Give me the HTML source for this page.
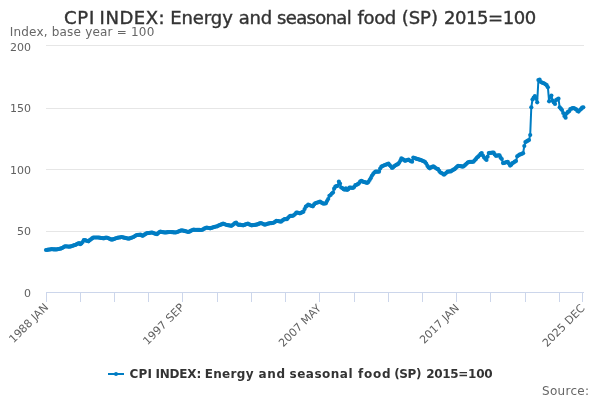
<!DOCTYPE html>
<html><head><meta charset="utf-8"><title>CPI INDEX: Energy and seasonal food (SP) 2015=100</title>
<style>
html,body{margin:0;padding:0;background:#fff;}
svg{display:block;font-family:"DejaVu Sans","Liberation Sans",Verdana,sans-serif;}
</style></head><body>
<svg width="600" height="400" viewBox="0 0 600 400">
<rect width="600" height="400" fill="#fff"/>
<g stroke="#e6e6e6" stroke-width="1" fill="none">
<path d="M46 45.5 H584"/><path d="M46 108.5 H584"/><path d="M46 169.5 H584"/><path d="M46 231.5 H584"/>
</g>
<g stroke="#ccd6eb" stroke-width="1" fill="none">
<path d="M46 292.5 H584"/>
<path d="M46.5 292 V302"/><path d="M80.5 292 V302"/><path d="M114.5 292 V302"/><path d="M148.5 292 V302"/><path d="M182.5 292 V302"/><path d="M217.5 292 V302"/><path d="M251.5 292 V302"/><path d="M285.5 292 V302"/><path d="M319.5 292 V302"/><path d="M354.5 292 V302"/><path d="M388.5 292 V302"/><path d="M422.5 292 V302"/><path d="M456.5 292 V302"/><path d="M490.5 292 V302"/><path d="M525.5 292 V302"/><path d="M559.5 292 V302"/><path d="M582.5 292 V302"/>
</g>
<defs><marker id="m" markerWidth="6" markerHeight="6" refX="3" refY="3" markerUnits="userSpaceOnUse"><circle cx="3" cy="3" r="2.1" fill="#007dc3"/></marker></defs>
<path d="M46.0 250.0 47.2 249.8 48.4 249.7 49.5 249.5 50.7 249.3 51.9 249.2 53.1 249.3 54.3 249.4 55.4 249.4 56.6 249.5 57.8 249.2 59.0 249.0 60.2 248.7 61.4 248.3 62.5 247.8 63.7 247.1 64.9 246.3 66.1 246.4 67.3 246.5 68.4 246.6 69.6 246.7 70.8 246.4 72.0 246.0 73.2 245.6 74.3 245.2 75.5 245.0 76.7 244.2 77.9 243.6 79.1 243.0 80.2 244.2 81.4 243.4 82.6 242.0 83.8 240.0 85.0 240.2 86.1 240.6 87.3 241.0 88.5 241.3 89.7 240.2 90.9 239.3 92.1 238.4 93.2 237.5 94.4 237.5 95.6 237.5 96.8 237.5 98.0 237.5 99.1 237.6 100.3 237.8 101.5 238.0 102.7 238.2 103.9 238.3 105.0 237.9 106.2 237.5 107.4 237.8 108.6 238.3 109.8 238.8 110.9 239.4 112.1 239.7 113.3 239.2 114.5 238.8 115.7 238.3 116.9 238.0 118.0 237.7 119.2 237.5 120.4 237.3 121.6 237.0 122.8 237.3 123.9 237.6 125.1 237.9 126.3 238.2 127.5 238.5 128.7 238.7 129.8 238.3 131.0 237.9 132.2 237.5 133.4 237.0 134.6 236.3 135.7 235.6 136.9 235.0 138.1 234.9 139.3 234.8 140.5 234.7 141.7 235.4 142.8 235.8 144.0 234.9 145.2 234.2 146.4 233.3 147.6 233.2 148.7 233.0 149.9 232.8 151.1 232.6 152.3 232.5 153.5 233.1 154.6 233.5 155.8 233.9 157.0 234.2 158.2 233.1 159.4 232.2 160.5 231.7 161.7 232.0 162.9 232.2 164.1 232.4 165.3 232.5 166.4 232.4 167.6 232.2 168.8 232.1 170.0 232.0 171.2 232.1 172.4 232.2 173.5 232.3 174.7 232.4 175.9 232.5 177.1 232.0 178.3 231.6 179.4 231.1 180.6 230.7 181.8 230.3 183.0 230.6 184.2 230.9 185.3 231.2 186.5 231.5 187.7 231.8 188.9 232.0 190.1 231.2 191.2 230.6 192.4 230.1 193.6 229.7 194.8 229.8 196.0 229.8 197.2 229.8 198.3 229.9 199.5 229.9 200.7 230.0 201.9 230.0 203.1 229.3 204.2 228.7 205.4 228.1 206.6 227.5 207.8 227.8 209.0 228.0 210.1 228.3 211.3 227.9 212.5 227.6 213.7 227.2 214.9 226.8 216.0 226.5 217.2 226.3 218.4 225.6 219.6 225.2 220.8 224.7 222.0 224.2 223.1 223.7 224.3 224.1 225.5 224.5 226.7 225.0 227.9 225.2 229.0 225.4 230.2 225.6 231.4 225.8 232.6 225.1 233.8 224.1 234.9 223.2 236.1 222.5 237.3 224.0 238.5 225.0 239.7 224.7 240.8 224.9 242.0 225.1 243.2 225.3 244.4 224.9 245.6 224.4 246.7 224.0 247.9 223.7 249.1 224.3 250.3 224.8 251.5 225.3 252.7 225.2 253.8 225.0 255.0 224.9 256.2 224.7 257.4 224.4 258.6 223.9 259.7 223.4 260.9 223.0 262.1 223.5 263.3 224.0 264.5 224.7 265.6 224.5 266.8 224.1 268.0 223.7 269.2 223.3 270.4 223.2 271.5 223.1 272.7 223.0 273.9 222.6 275.1 221.8 276.3 220.8 277.5 221.0 278.6 221.2 279.8 221.5 281.0 221.7 282.2 220.7 283.4 219.8 284.5 219.2 285.7 219.2 286.9 219.2 288.1 217.8 289.3 216.6 290.4 215.8 291.6 215.8 292.8 215.8 294.0 215.1 295.2 214.0 296.3 212.5 297.5 212.7 298.7 213.0 299.9 213.3 301.1 212.8 302.3 212.2 303.4 211.7 304.6 209.1 305.8 206.7 307.0 205.8 308.2 204.7 309.3 205.1 310.5 205.5 311.7 206.0 312.9 206.3 314.1 204.4 315.2 203.3 316.4 202.8 317.6 202.5 318.8 202.1 320.0 201.7 321.1 202.4 322.3 203.1 323.5 203.7 324.7 203.5 325.9 203.3 327.0 201.1 328.2 199.0 329.4 195.8 330.6 195.0 331.8 193.5 333.0 192.5 334.1 188.7 335.3 186.7 336.5 186.2 337.7 185.8 338.9 181.7 340.0 183.6 341.2 187.5 342.4 188.1 343.6 189.2 344.8 189.7 345.9 188.3 347.1 190.0 348.3 189.2 349.5 187.5 350.7 187.6 351.8 187.8 353.0 188.0 354.2 186.9 355.4 185.0 356.6 184.8 357.8 184.2 358.9 183.3 360.1 181.7 361.3 180.8 362.5 181.4 363.7 182.0 364.8 182.2 366.0 182.6 367.2 183.0 368.4 181.9 369.6 180.0 370.7 178.2 371.9 175.8 373.1 174.1 374.3 172.6 375.5 171.7 376.6 171.7 377.8 171.7 379.0 171.7 380.2 168.6 381.4 166.7 382.6 166.0 383.7 165.5 384.9 165.0 386.1 164.6 387.3 164.1 388.5 163.7 389.6 165.1 390.8 166.3 392.0 168.0 393.2 167.3 394.4 166.0 395.5 165.3 396.7 164.7 397.9 164.2 399.1 162.8 400.3 160.8 401.4 158.3 402.6 159.0 403.8 159.9 405.0 160.8 406.2 160.4 407.3 160.0 408.5 159.7 409.7 160.5 410.9 161.2 412.1 161.7 413.3 157.5 414.4 158.0 415.6 158.4 416.8 158.9 418.0 159.2 419.2 159.6 420.3 159.9 421.5 160.3 422.7 160.8 423.9 161.3 425.1 162.0 426.2 163.5 427.4 165.8 428.6 167.4 429.8 168.3 431.0 167.4 432.1 166.9 433.3 166.3 434.5 167.1 435.7 168.0 436.9 168.8 438.1 169.2 439.2 170.9 440.4 172.5 441.6 173.0 442.8 173.8 444.0 174.7 445.1 173.8 446.3 172.8 447.5 171.7 448.7 171.6 449.9 171.4 451.0 171.3 452.2 170.4 453.4 169.7 454.6 169.2 455.8 167.9 456.9 166.9 458.1 165.8 459.3 166.0 460.5 166.2 461.7 166.4 462.9 166.7 464.0 166.0 465.2 164.9 466.4 163.8 467.6 162.7 468.8 162.0 469.9 161.9 471.1 161.8 472.3 161.8 473.5 161.7 474.7 160.3 475.8 159.2 477.0 157.5 478.2 156.7 479.4 155.3 480.6 153.9 481.7 153.0 482.9 155.5 484.1 157.5 485.3 158.8 486.5 160.0 487.6 156.7 488.8 153.0 490.0 152.9 491.2 152.8 492.4 152.6 493.6 152.5 494.7 154.4 495.9 155.8 497.1 155.6 498.3 155.4 499.5 155.3 500.6 157.7 501.8 159.0 503.0 163.1 504.2 162.9 505.4 162.5 506.5 162.1 507.7 161.8 508.9 163.6 510.1 165.6 511.3 164.7 512.4 163.1 513.6 162.6 514.8 161.7 516.0 161.0 517.2 156.3 518.4 155.5 519.5 154.6 520.7 154.3 521.9 153.8 523.1 153.2 524.3 146.0 525.4 142.1 526.6 141.4 527.8 140.7 529.0 140.0 530.2 135.0 531.3 107.3 532.5 99.5 533.7 97.5 534.9 96.0 536.1 98.7 537.2 102.3 538.4 80.0 539.6 79.6 540.8 82.0 542.0 82.6 543.2 83.0 544.3 83.5 545.5 84.3 546.7 85.2 547.9 87.3 549.1 101.3 550.2 97.0 551.4 95.5 552.6 100.7 553.8 102.5 555.0 104.0 556.1 100.0 557.3 99.3 558.5 98.7 559.7 107.3 560.9 108.7 562.0 110.0 563.2 113.0 564.4 116.0 565.6 117.7 566.8 113.3 567.9 111.9 569.1 111.3 570.3 109.0 571.5 108.7 572.7 108.2 573.9 108.0 575.0 108.8 576.2 109.3 577.4 110.9 578.6 111.6 579.8 110.0 580.9 109.2 582.1 107.7 583.3 107.3" fill="none" stroke="#007dc3" stroke-width="2" stroke-linejoin="round" stroke-linecap="round" marker-start="url(#m)" marker-mid="url(#m)" marker-end="url(#m)"/>
<text y="24" font-size="18" fill="#333" stroke="#333" stroke-width="0.4"><tspan x="64" letter-spacing="0.75">CPI</tspan> <tspan x="99.6" letter-spacing="0.52">INDEX:</tspan> <tspan x="170.2" letter-spacing="-0.08">Energy</tspan> <tspan x="238.8" letter-spacing="-0.3">and</tspan> <tspan x="277" letter-spacing="-0.66">seasonal</tspan> <tspan x="357.6" letter-spacing="-0.4">food</tspan> <tspan x="401.8" letter-spacing="-0.07">(SP)</tspan> <tspan x="444" letter-spacing="-0.43">2015=100</tspan></text>
<text x="9.7" y="36" font-size="12" letter-spacing="0.2" fill="#666">Index, base year = 100</text>
<g font-size="11" fill="#606060" text-anchor="end">
<text x="31" y="51">200</text><text x="31" y="112">150</text><text x="31" y="174">100</text><text x="31" y="235">50</text><text x="31" y="297">0</text>
</g>
<g font-size="11" fill="#606060" text-anchor="end">
<text transform="translate(49,308) rotate(-45)">1988 JAN</text>
<text transform="translate(185,308) rotate(-45)" letter-spacing="0.12">1997 SEP</text>
<text transform="translate(321.8,309) rotate(-45)">2007 MAY</text>
<text transform="translate(459.7,308.6) rotate(-45)">2017 JAN</text>
<text transform="translate(585.5,308.9) rotate(-45)">2025 DEC</text>
</g>
<g>
<path d="M108 374 H124" stroke="#007dc3" stroke-width="2" fill="none"/>
<circle cx="116" cy="374" r="2" fill="#007dc3"/>
<text y="378" font-size="12" font-weight="bold" fill="#333"><tspan x="129.4" letter-spacing="0.3">CPI</tspan> <tspan x="155.4" letter-spacing="-0.18">INDEX:</tspan> <tspan x="204.8" letter-spacing="0.29">Energy</tspan> <tspan x="258.5" letter-spacing="0.62">and</tspan> <tspan x="289.5" letter-spacing="0.5">seasonal</tspan> <tspan x="358.1" letter-spacing="0.73">food</tspan> <tspan x="394.2" letter-spacing="-0.4">(SP)</tspan> <tspan x="426.2" letter-spacing="-0.31">2015=100</tspan></text>
</g>
<text x="542" y="395" font-size="12" fill="#666" letter-spacing="0.3">Source:</text>
</svg>
</body></html>
